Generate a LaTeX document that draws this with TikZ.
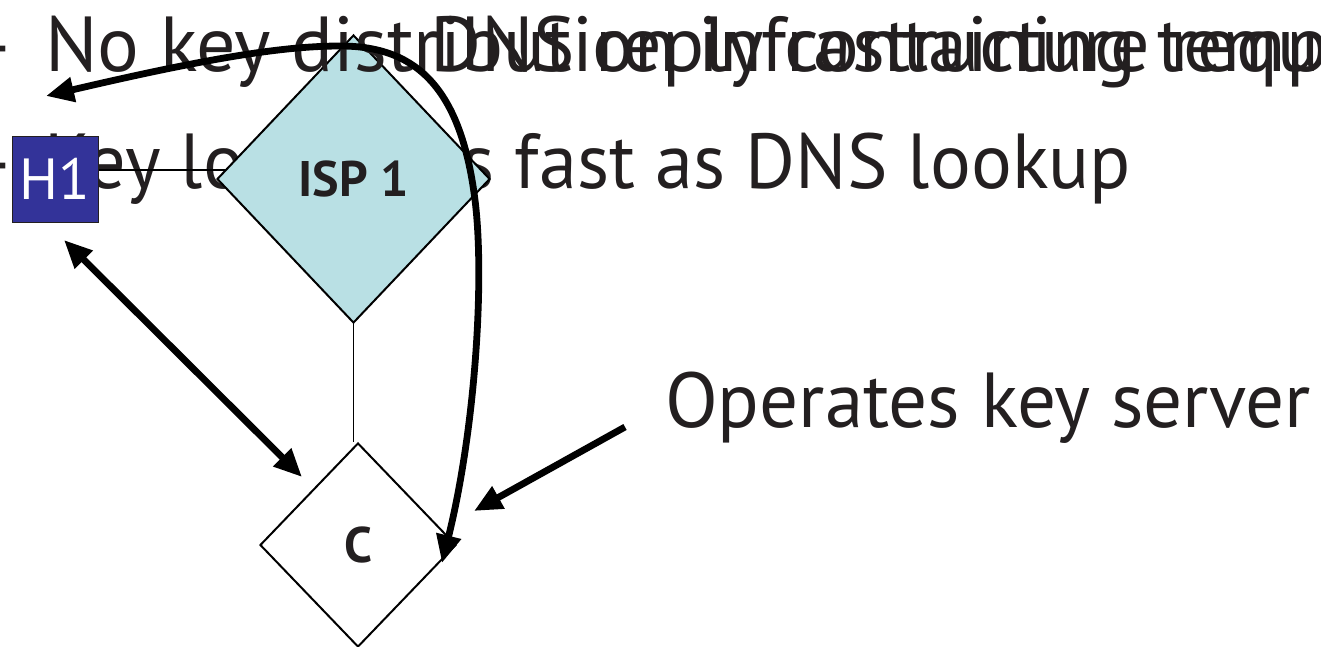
\documentclass[tikz,border=0pt]{standalone}
\usepackage{fontspec}
\setmainfont{PT Sans}
\usepackage{graphicx}
\usetikzlibrary{shapes.geometric,arrows.meta}
\definecolor{ink}{HTML}{231F20}
\definecolor{ispteal}{HTML}{B9E0E4}
\definecolor{hostblue}{HTML}{333399}
% set a line of text to a given width, keeping its height
\newcommand{\fitto}[2]{\resizebox{#1}{\height}{#2}}
\begin{document}
\begin{tikzpicture}[x=0.5pt,y=-0.5pt,
  >={Triangle[length=14pt,width=12pt]},
  bullettext/.style={font=\fontsize{39}{46}\selectfont, text=ink, inner sep=0pt, outer sep=0pt},
  hostbox/.style={draw=ink, line width=0.5pt, fill=hostblue, minimum size=43pt, inner sep=0pt,
    text=white, font=\fontsize{29}{31}\selectfont},
  router/.style={diamond, draw=black, line width=1pt, inner sep=0pt, text=ink,
    font=\bfseries\fontsize{25}{27}\selectfont},
  thinlink/.style={draw=black, line width=0.75pt},
  bigarrow/.style={draw=black, line width=3.4pt}
]
\useasboundingbox (0,0) rectangle (1321,647);
\clip (0,0) rectangle (1321,647);

% second bullet line, partly hidden by the network
\node[bullettext, anchor=base east] (dashB) at (15,188) {–};
\node[bullettext, anchor=base west] (lineC) at (45,188) {\fitto{543pt}{Key lookup as fast as DNS lookup}};

% host to ISP link, then the ISP router
\node[hostbox] (H1) at (55,179) {H1};
\draw[thinlink] ([yshift=4.5pt]H1.east) -- ([yshift=4.5pt]H1.east -| 353.5,179);
\node[router, fill=ispteal, minimum width=136.5pt, minimum height=144pt] (ISP1) at (353.5,179) {ISP 1};

% first bullet line and the overlaid message text
\node[bullettext, anchor=base east] (dashA) at (15,72) {–};
\node[bullettext, anchor=base west] (lineA) at (45,72) {\fitto{702pt}{No key distribution infrastructure required}};
\node[bullettext, anchor=base west] (lineB) at (430,72) {\fitto{600pt}{DNS reply containing temporary key}};

% key server C below the ISP
\node[router, fill=white, minimum width=98pt, minimum height=102pt] (C) at (358,545) {C};
\draw[thinlink] (ISP1.south) -- (ISP1.south |- C.north);

\node[bullettext, anchor=base west] (Op) at (665,427) {\fitto{323pt}{Operates key server}};

% arrows
\coordinate (arcStart) at (46,96);
\coordinate (arcEnd) at (442,563);
\draw[bigarrow, <->] (arcStart) .. controls (200,60) and (280,46) .. (340,46)
  .. controls (410,46) and (460,80) .. (475,200)
  .. controls (485,280) and (475,430) .. (arcEnd);

\coordinate (hTip) at (64,240);
\coordinate (cTip) at (302,477);
\draw[bigarrow, <->] (hTip) -- (cTip);

\coordinate (opTip) at (474,511);
\draw[bigarrow, ->] ([xshift=-20pt]Op.base west) -- (opTip);
\end{tikzpicture}
\end{document}
